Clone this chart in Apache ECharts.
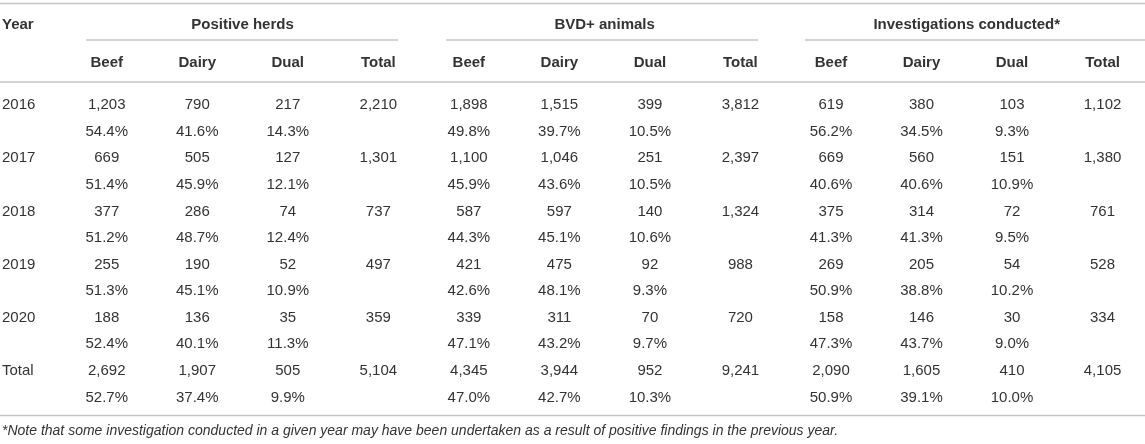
<!DOCTYPE html>
<html>
<head>
<meta charset="utf-8">
<script src="https://cdn.jsdelivr.net/npm/echarts@6/dist/echarts.min.js"></script>
<style>
html,body{margin:0;padding:0;background:#fff;}
#chart{width:1145px;height:444px;}
</style>
</head>
<body>
<div id="chart"></div>
<script>
// ---- data ----
const years = ['2016', '2017', '2018', '2019', '2020', 'Total'];
const groups = ['Positive herds', 'BVD+ animals', 'Investigations conducted*'];
const subHeaders = ['Beef', 'Dairy', 'Dual', 'Total'];

const herdsBeef = [1203, 669, 377, 255, 188, 2692];
const herdsBeefPct = [54.4, 51.4, 51.2, 51.3, 52.4, 52.7];
const herdsDairy = [790, 505, 286, 190, 136, 1907];
const herdsDairyPct = [41.6, 45.9, 48.7, 45.1, 40.1, 37.4];
const herdsDual = [217, 127, 74, 52, 35, 505];
const herdsDualPct = [14.3, 12.1, 12.4, 10.9, 11.3, 9.9];
const herdsTotal = [2210, 1301, 737, 497, 359, 5104];

const bvdBeef = [1898, 1100, 587, 421, 339, 4345];
const bvdBeefPct = [49.8, 45.9, 44.3, 42.6, 47.1, 47.0];
const bvdDairy = [1515, 1046, 597, 475, 311, 3944];
const bvdDairyPct = [39.7, 43.6, 45.1, 48.1, 43.2, 42.7];
const bvdDual = [399, 251, 140, 92, 70, 952];
const bvdDualPct = [10.5, 10.5, 10.6, 9.3, 9.7, 10.3];
const bvdTotal = [3812, 2397, 1324, 988, 720, 9241];

const invBeef = [619, 669, 375, 269, 158, 2090];
const invBeefPct = [56.2, 40.6, 41.3, 50.9, 47.3, 50.9];
const invDairy = [380, 560, 314, 205, 146, 1605];
const invDairyPct = [34.5, 40.6, 41.3, 38.8, 43.7, 39.1];
const invDual = [103, 151, 72, 54, 30, 410];
const invDualPct = [9.3, 10.9, 9.5, 10.2, 9.0, 10.0];
const invTotal = [1102, 1380, 761, 528, 334, 4105];

const footnote = '*Note that some investigation conducted in a given year may have been undertaken as a result of positive findings in the previous year.';

// ---- build cells ----
const columns = [
  [herdsBeef, herdsBeefPct], [herdsDairy, herdsDairyPct], [herdsDual, herdsDualPct], [herdsTotal, null],
  [bvdBeef, bvdBeefPct], [bvdDairy, bvdDairyPct], [bvdDual, bvdDualPct], [bvdTotal, null],
  [invBeef, invBeefPct], [invDairy, invDairyPct], [invDual, invDualPct], [invTotal, null]
];
const fmtN = v => v.toLocaleString('en-US');
const fmtP = v => v.toFixed(1) + '%';

const HEADER_LINE = -3;     // group header row (line units)
const SUB_LINE = -1.6;      // sub header row
const cells = []; // [col, line, text, kind]
cells.push([0, HEADER_LINE, 'Year', 'yearHead']);
groups.forEach((g, gi) => cells.push([gi * 4 + 2.5, HEADER_LINE, g, 'bold']));
for (let gi = 0; gi < 3; gi++) subHeaders.forEach((s, si) => cells.push([gi * 4 + si + 1, SUB_LINE, s, 'bold']));
years.forEach((y, r) => {
  cells.push([0, 2 * r, y, 'year']);
  columns.forEach((col, ci) => {
    cells.push([ci + 1, 2 * r, fmtN(col[0][r]), 'num']);
    if (col[1]) cells.push([ci + 1, 2 * r + 1, fmtP(col[1][r]), 'num']);
  });
});

const FONT = '"Liberation Sans", Arial, Helvetica, sans-serif';
const RULE = { stroke: '#c4c4c4', lineWidth: 1.5 };
const chart = echarts.init(document.getElementById('chart'));

chart.setOption({
  animation: false,
  backgroundColor: '#fff',
  grid: { left: 0, right: 0, top: 0, bottom: 0 },
  xAxis: { type: 'value', min: -0.179, max: 12.469, show: false },
  yAxis: { type: 'value', inverse: true, min: -3.95, max: 12.75, show: false },
  series: [{
    type: 'custom',
    coordinateSystem: 'cartesian2d',
    data: cells.map(c => [c[0], c[1]]),
    renderItem: function (params, api) {
      const c = cells[params.dataIndex];
      const p = api.coord([api.value(0), api.value(1)]);
      const isLeft = c[3] === 'year' || c[3] === 'yearHead';
      const bold = c[3] === 'bold' || c[3] === 'yearHead';
      return {
        type: 'text',
        x: isLeft ? 2 : p[0],
        y: p[1],
        style: {
          text: c[2],
          fill: '#333',
          font: (bold ? 'bold ' : '') + '15px ' + FONT,
          textAlign: isLeft ? 'left' : 'center',
          textVerticalAlign: 'middle'
        }
      };
    }
  }],
  graphic: [
    { type: 'line', shape: { x1: 0, y1: 3.5, x2: 1145, y2: 3.5 }, style: RULE },
    { type: 'line', shape: { x1: 86, y1: 40, x2: 398, y2: 40 }, style: RULE },
    { type: 'line', shape: { x1: 446, y1: 40, x2: 758, y2: 40 }, style: RULE },
    { type: 'line', shape: { x1: 805, y1: 40, x2: 1145, y2: 40 }, style: RULE },
    { type: 'line', shape: { x1: 0, y1: 82, x2: 1145, y2: 82 }, style: RULE },
    { type: 'line', shape: { x1: 0, y1: 415.5, x2: 1145, y2: 415.5 }, style: RULE },
    { type: 'text', x: 2, y: 431, style: { text: footnote, fill: '#333', font: 'italic 14px ' + FONT, textVerticalAlign: 'middle' } }
  ]
});
</script>
</body>
</html>
